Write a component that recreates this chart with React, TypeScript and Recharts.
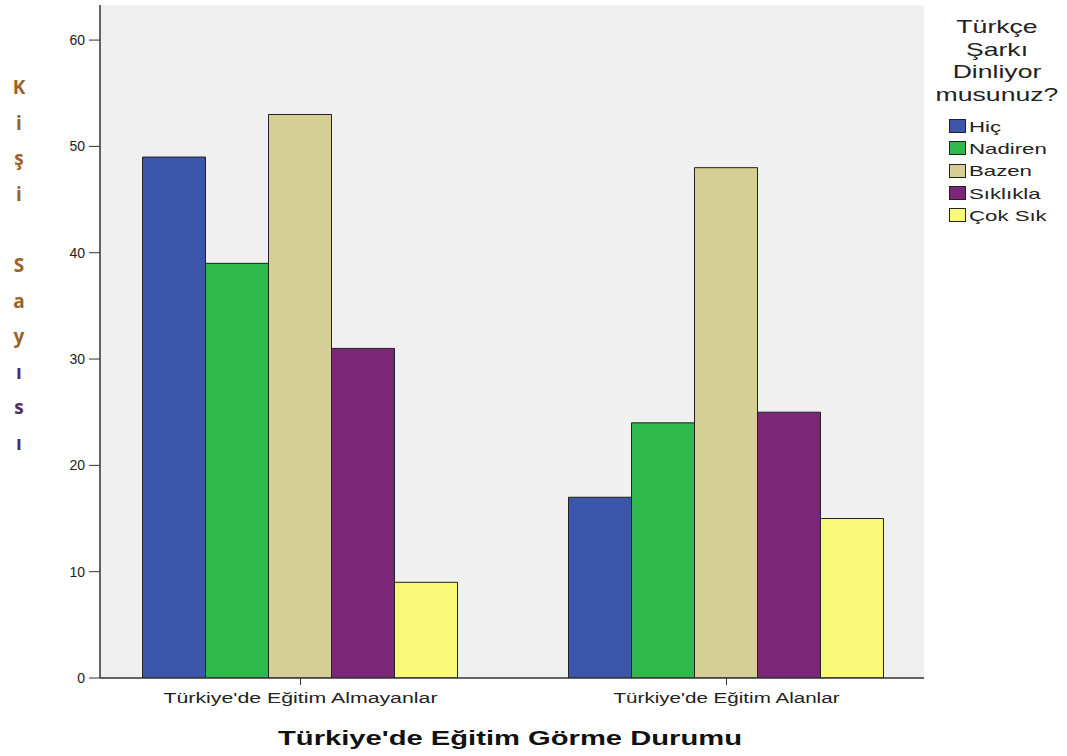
import { Bar, BarChart, CartesianGrid, Label, XAxis, YAxis } from 'recharts'

const CATEGORIES = ["Türkiye'de Eğitim Almayanlar", "Türkiye'de Eğitim Alanlar"]
const SERIES = ['Hiç', 'Nadiren', 'Bazen', 'Sıklıkla', 'Çok Sık']
const HIC = [49, 17]
const NADIREN = [39, 24]
const BAZEN = [53, 48]
const SIKLIKLA = [31, 25]
const COK_SIK = [9, 15]
const Y_TICKS = [0, 10, 20, 30, 40, 50, 60]
const LEGEND_TITLE = ['Türkçe', 'Şarkı', 'Dinliyor', 'musunuz?']
const Y_LABEL = 'Kişi Sayısı'
const X_LABEL = "Türkiye'de Eğitim Görme Durumu"

const COLORS = ['#3c57a9', '#2fb84c', '#d5cf95', '#7c2678', '#f9f878']
const VALUES = [HIC, NADIREN, BAZEN, SIKLIKLA, COK_SIK]

const chartData = CATEGORIES.map((name, i) => {
  const row: Record<string, string | number> = { name }
  SERIES.forEach((s, j) => {
    row[s] = VALUES[j][i]
  })
  return row
})

const FONT = '"Liberation Sans", Arial, sans-serif'

// the source picture is stretched sideways, so text is widened to match
function CategoryTick(props: any) {
  const { x, y, payload } = props
  const w = payload.value.length > 26 ? 274 : 226
  return (
    <text
      x={x}
      y={y + 16}
      textAnchor="middle"
      fontSize={14}
      fill="#222"
      fontFamily={FONT}
      textLength={w}
      lengthAdjust="spacingAndGlyphs"
    >
      {payload.value}
    </text>
  )
}

function XTitle(props: any) {
  const { viewBox } = props
  return (
    <text
      x={510}
      y={viewBox.y + 67}
      textAnchor="middle"
      fontSize={21}
      fontWeight={700}
      fill="#111"
      fontFamily={FONT}
      textLength={464}
      lengthAdjust="spacingAndGlyphs"
    >
      {X_LABEL}
    </text>
  )
}

function VerticalLetters() {
  const letters = Y_LABEL.split('')
  return (
    <g>
      {letters.map((ch, i) => (
        <text
          key={i}
          x={19}
          y={94 + i * 35.6}
          textAnchor="middle"
          fontFamily='"Open Sans", sans-serif'
          fontWeight={700}
          fontSize={19}
          fill={i < 8 ? '#9a6228' : '#4e2c68'}
        >
          {ch}
        </text>
      ))}
    </g>
  )
}

function LegendBox() {
  return (
    <div style={{ position: 'absolute', left: 932, top: 16, width: 130, fontFamily: FONT, color: '#222' }}>
      <div style={{ textAlign: 'center', fontSize: 19, lineHeight: '22.5px', transform: 'scaleX(1.4)' }}>
        {LEGEND_TITLE.map((t) => (
          <div key={t}>{t}</div>
        ))}
      </div>
      <div style={{ marginTop: 9, marginLeft: 17 }}>
        {SERIES.map((s, i) => (
          <div key={s} style={{ display: 'flex', alignItems: 'center', height: 22.3, fontSize: 15 }}>
            <span
              style={{
                display: 'inline-block',
                width: 15,
                height: 12,
                background: COLORS[i],
                border: '1px solid #222',
                marginRight: 3,
              }}
            />
            <span style={{ display: 'inline-block', transform: 'scaleX(1.48)', transformOrigin: 'left center' }}>{s}</span>
          </div>
        ))}
      </div>
    </div>
  )
}

export default function App() {
  return (
    <div style={{ position: 'absolute', left: 0, top: 0, width: 1067, height: 756, background: '#fff' }}>
      <BarChart
        width={1067}
        height={756}
        data={chartData}
        margin={{ top: 5, right: 143, bottom: 0, left: 40 }}
        barCategoryGap={55}
        barGap={0}
      >
        <CartesianGrid horizontal={false} vertical={false} fill="#f0f0f0" />
        <XAxis
          dataKey="name"
          height={78}
          padding={{ left: -12.5, right: -15.5 }}
          axisLine={{ stroke: '#333', strokeWidth: 1.5 }}
          tickLine={{ stroke: '#333' }}
          tickSize={7}
          tick={<CategoryTick />}
        >
          <Label content={<XTitle />} />
        </XAxis>
        <XAxis xAxisId="top" orientation="top" height={0} tick={false} axisLine={{ stroke: '#666', strokeWidth: 2 }} tickLine={false} />
        <YAxis
          width={60}
          domain={[0, 63.3]}
          ticks={Y_TICKS}
          allowDataOverflow
          axisLine={{ stroke: '#333', strokeWidth: 1.5 }}
          tickLine={{ stroke: '#333' }}
          tickSize={11}
          tickMargin={4}
          tick={{ fontSize: 14, fill: '#222', fontFamily: FONT }}
        >
          <Label content={() => <VerticalLetters />} />
        </YAxis>
        <YAxis yAxisId="right" orientation="right" width={0} tick={false} axisLine={{ stroke: '#666', strokeWidth: 2 }} tickLine={false} />
        {SERIES.map((s, i) => (
          <Bar key={s} dataKey={s} fill={COLORS[i]} stroke="#222" strokeWidth={1} isAnimationActive={false} />
        ))}
      </BarChart>
      <LegendBox />
    </div>
  )
}
